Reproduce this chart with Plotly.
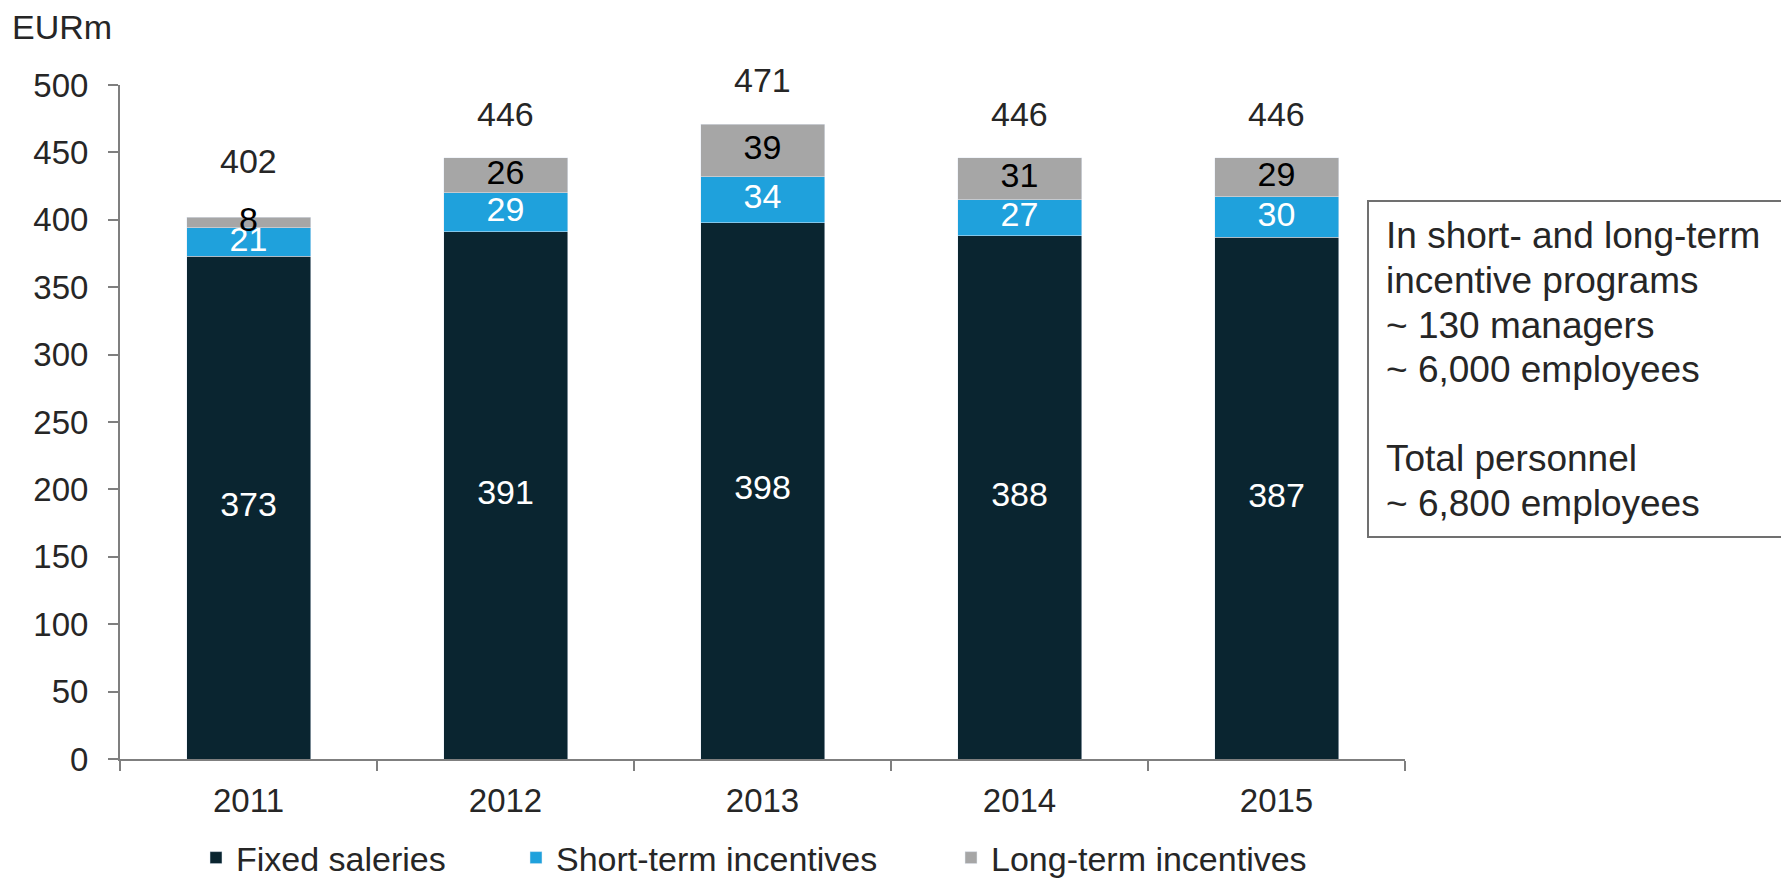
import plotly.graph_objects as go

years = ["2011", "2012", "2013", "2014", "2015"]
fixed_salaries = [373, 391, 398, 388, 387]
short_term = [21, 29, 34, 27, 30]
long_term = [8, 26, 39, 31, 29]
totals = [402, 446, 471, 446, 446]
total_label_shift = [56, 44, 44, 44, 44]

series_names = ["Fixed saleries", "Short-term incentives", "Long-term incentives"]
y_ticks = [0, 50, 100, 150, 200, 250, 300, 350, 400, 450, 500]
note_lines = ["In short- and long-term", "incentive programs", "~ 130 managers",
              "~ 6,000 employees", "Total personnel", "~ 6,800 employees"]
note_line_px = [235, 280, 325, 369, 458, 503]

FONT = "Liberation Sans, Arial, sans-serif"
TXT = "#262626"
C_FIXED = "#0A2530"
C_SHORT = "#1FA1DC"
C_LONG = "#A6A6A6"

W, H = 1781, 879
ML, MR, MT, MB = 120, 376, 85, 120
PW = W - ML - MR
PH = H - MT - MB


def px_x(px):
    return (px - ML) / PW


def px_y(py):
    return (H - MB - py) / PH


idx = list(range(len(years)))

fig = go.Figure()
fig.add_bar(x=years, y=fixed_salaries, name=series_names[0], marker_color=C_FIXED,
            legend="legend")
fig.add_bar(x=years, y=short_term, name=series_names[1], marker_color=C_SHORT,
            legend="legend2")
fig.add_bar(x=years, y=long_term, name=series_names[2], marker_color=C_LONG,
            legend="legend3")

mid_fixed = [f / 2 for f in fixed_salaries]
mid_short = [f + s / 2 for f, s in zip(fixed_salaries, short_term)]
mid_long = [f + s + l / 2 for f, s, l in zip(fixed_salaries, short_term, long_term)]

fig.add_scatter(x=years, y=mid_fixed, mode="text", text=[str(v) for v in fixed_salaries],
                textfont=dict(family=FONT, size=34, color="white"),
                showlegend=False, hoverinfo="skip", cliponaxis=False)
fig.add_scatter(x=years, y=mid_short, mode="text", text=[str(v) for v in short_term],
                textfont=dict(family=FONT, size=34, color="white"),
                showlegend=False, hoverinfo="skip", cliponaxis=False)
fig.add_scatter(x=years, y=mid_long, mode="text", text=[str(v) for v in long_term],
                textfont=dict(family=FONT, size=34, color="black"),
                showlegend=False, hoverinfo="skip", cliponaxis=False)

for i, tot, sh in zip(idx, totals, total_label_shift):
    fig.add_annotation(x=i, y=tot, text=str(tot), showarrow=False, yshift=sh,
                       yanchor="middle", font=dict(family=FONT, size=34, color=TXT))

fig.add_annotation(xref="paper", yref="paper", x=px_x(10), y=px_y(27), text="EURm",
                   showarrow=False, xanchor="left", yanchor="middle",
                   font=dict(family=FONT, size=34, color=TXT))

fig.add_shape(type="rect", xref="paper", yref="paper",
              x0=px_x(1368), x1=px_x(1800), y0=px_y(537), y1=px_y(201),
              line=dict(color="#707070", width=2), fillcolor="rgba(0,0,0,0)")
for line, ypx in zip(note_lines, note_line_px):
    fig.add_annotation(xref="paper", yref="paper", x=px_x(1384), y=px_y(ypx),
                       text=line, showarrow=False, align="left",
                       xanchor="left", yanchor="middle",
                       font=dict(family=FONT, size=37, color=TXT))

legend_common = dict(orientation="h", yanchor="middle", xanchor="left", yref="container",
                     font=dict(family=FONT, size=34, color=TXT),
                     bgcolor="rgba(0,0,0,0)", borderwidth=0)
leg_y = (H - 858) / H

fig.update_layout(
    width=W, height=H,
    margin=dict(l=ML, r=MR, t=MT, b=MB, autoexpand=False),
    paper_bgcolor="white", plot_bgcolor="white",
    barmode="stack", bargap=0.5175,
    font=dict(family=FONT, color=TXT),
    legend=dict(x=px_x(238 - 42), y=leg_y, **legend_common),
    legend2=dict(x=px_x(558 - 42), y=leg_y, **legend_common),
    legend3=dict(x=px_x(993 - 42), y=leg_y, **legend_common),
    xaxis=dict(type="category", range=[-0.5, 4.5], showline=True, linecolor="#7F7F7F",
               linewidth=2, ticks="outside", tickson="boundaries", ticklen=10,
               tickcolor="#7F7F7F", tickwidth=2, tickangle=0, automargin=False,
               tickfont=dict(family=FONT, size=33, color=TXT),
               showgrid=False, zeroline=False, ticklabelstandoff=11),
    yaxis=dict(range=[0, 500], tickvals=y_ticks, showline=True, linecolor="#7F7F7F",
               linewidth=2, ticks="outside", ticklen=10, tickcolor="#7F7F7F", tickwidth=2,
               automargin=False, tickfont=dict(family=FONT, size=33, color=TXT),
               showgrid=False, zeroline=False, ticklabelstandoff=13),
    showlegend=True,
)

fig.write_html("out.html", config={"displayModeBar": False},
               post_script="document.body.style.margin='0';")
